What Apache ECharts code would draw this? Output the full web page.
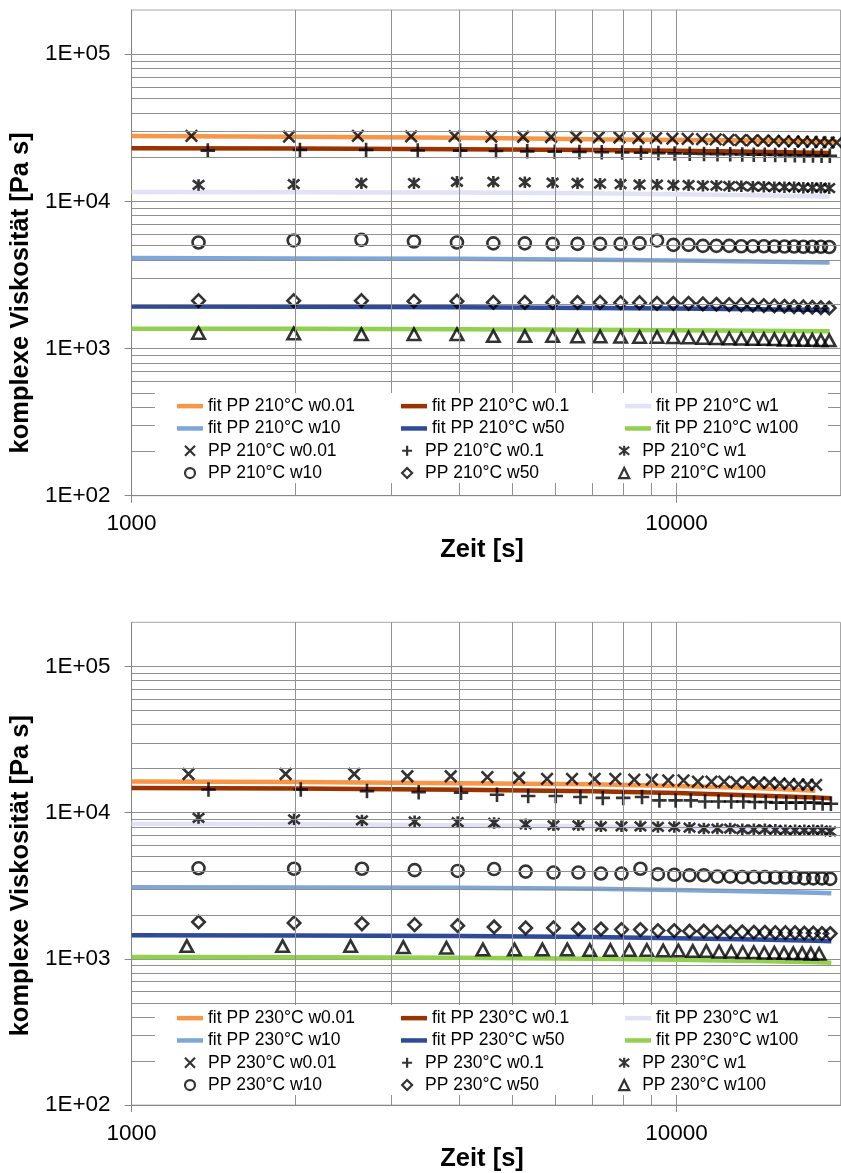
<!DOCTYPE html>
<html><head><meta charset="utf-8">
<script src="https://cdn.jsdelivr.net/npm/echarts@6/dist/echarts.min.js"></script>
<style>html,body{margin:0;padding:0;background:#fff}#c{width:841px;height:1173px}</style>
</head><body><div id="c"></div><script>
// ---------- 210 °C ----------
const t210_x = [1288, 1945, 2602, 3259, 3916, 4573, 5230, 5887, 6544, 7201, 7858, 8515, 9172, 9829, 10486, 11143, 11800, 12457, 13114, 13771, 14428, 15085, 15742, 16399, 17056, 17713, 18370, 19027, 19684];
const t210_p = [1380, 2037, 2694, 3351, 4008, 4665, 5322, 5979, 6636, 7293, 7950, 8607, 9264, 9921, 10578, 11235, 11892, 12549, 13206, 13863, 14520, 15177, 15834, 16491, 17148, 17805, 18462, 19119];
const t210_o = [1327, 1984, 2641, 3298, 3955, 4612, 5269, 5926, 6583, 7240, 7897, 8554, 9211, 9868, 10525, 11182, 11839, 12496, 13153, 13810, 14467, 15124, 15781, 16438, 17095, 17752, 18409, 19066];
const pp210_w001 = [27900, 27600, 27900, 27700, 27800, 27600, 27500, 27400, 27400, 27300, 27200, 27000, 26900, 26700, 26600, 26500, 26400, 26200, 26100, 26000, 25900, 25800, 25700, 25600, 25500, 25400, 25300, 25200, 25100];
const pp210_w01 = [22150, 22400, 22400, 22200, 22150, 22000, 21900, 21800, 21700, 21600, 21500, 21400, 21300, 21200, 21100, 21000, 20950, 20900, 20850, 20800, 20750, 20700, 20650, 20600, 20550, 20500, 20450, 20400];
const pp210_w1 = [12950, 13100, 13300, 13300, 13600, 13600, 13500, 13400, 13300, 13200, 13100, 13000, 13000, 12900, 12900, 12800, 12800, 12700, 12700, 12600, 12600, 12500, 12500, 12500, 12400, 12400, 12400, 12300];
const pp210_w10 = [5260, 5430, 5480, 5340, 5260, 5190, 5190, 5150, 5150, 5150, 5150, 5190, 5430, 5070, 5070, 4990, 4990, 4990, 4960, 4960, 4960, 4940, 4940, 4940, 4920, 4920, 4920, 4900];
const pp210_w50 = [2115, 2115, 2115, 2100, 2100, 2060, 2060, 2060, 2060, 2060, 2050, 2050, 2030, 2030, 2030, 2010, 2000, 1990, 1980, 1970, 1960, 1950, 1940, 1930, 1920, 1910, 1900, 1887];
const pp210_w100 = [1276, 1265, 1250, 1250, 1250, 1215, 1215, 1215, 1210, 1210, 1205, 1200, 1200, 1195, 1190, 1180, 1175, 1170, 1165, 1160, 1160, 1155, 1150, 1150, 1145, 1145, 1140, 1137];
const fitT210 = [1000, 2000, 4000, 7000, 10000, 14000, 19100, 19700];
const fit210_w001 = [27800, 27500, 27050, 26500, 26200, 25900, 25550, 25500];
const fit210_w01 = [23000, 22850, 22650, 22400, 22100, 21750, 21300];
const fit210_w1 = [11570, 11540, 11480, 11350, 11200, 11000, 10800];
const fit210_w10 = [4120, 4100, 4070, 4010, 3960, 3910, 3850];
const fit210_w50 = [1935, 1925, 1910, 1890, 1870, 1850, 1825];
const fit210_w100 = [1365, 1362, 1355, 1343, 1332, 1320, 1309];

// ---------- 230 °C ----------
const t230_x = [1272, 1917, 2562, 3207, 3852, 4497, 5142, 5787, 6432, 7077, 7722, 8367, 9012, 9657, 10302, 10947, 11592, 12237, 12882, 13527, 14172, 14817, 15462, 16107, 16752, 17397, 18042];
const t230_p = [1384, 2044, 2704, 3364, 4024, 4684, 5344, 6004, 6664, 7324, 7984, 8644, 9304, 9964, 10624, 11284, 11944, 12604, 13264, 13924, 14584, 15244, 15904, 16564, 17224, 17884, 18544, 19204];
const t230_o = [1327, 1987, 2647, 3307, 3967, 4627, 5287, 5947, 6607, 7267, 7927, 8587, 9247, 9907, 10567, 11227, 11887, 12547, 13207, 13867, 14527, 15187, 15847, 16507, 17167, 17827, 18487, 19147];
const t230_t = [1263, 1893, 2523, 3153, 3783, 4413, 5043, 5673, 6303, 6933, 7563, 8193, 8823, 9453, 10083, 10713, 11343, 11973, 12603, 13233, 13863, 14493, 15123, 15753, 16383, 17013, 17643, 18273];
const pp230_w001 = [18370, 18370, 18370, 17730, 17730, 17460, 17300, 17000, 17000, 17000, 17000, 16800, 16800, 16600, 16600, 16300, 16300, 16300, 16100, 16100, 16000, 16000, 15800, 15700, 15600, 15500, 15470];
const pp230_w01 = [14380, 14380, 14020, 13800, 13650, 13240, 12980, 12980, 12770, 12600, 12600, 12770, 12110, 12110, 12110, 11920, 11920, 11920, 11920, 11800, 11800, 11690, 11690, 11690, 11690, 11690, 11550, 11490];
const pp230_w1 = [9190, 8990, 8840, 8710, 8610, 8500, 8310, 8190, 8190, 8050, 8050, 8050, 7980, 7980, 7890, 7780, 7780, 7780, 7690, 7690, 7690, 7630, 7570, 7570, 7570, 7570, 7570, 7450];
const pp230_w10 = [4160, 4130, 4130, 4040, 3990, 4110, 3950, 3890, 3890, 3830, 3830, 4130, 3790, 3760, 3730, 3730, 3650, 3650, 3620, 3620, 3620, 3600, 3600, 3600, 3550, 3550, 3550, 3520];
const pp230_w50 = [1787, 1760, 1735, 1713, 1685, 1652, 1627, 1627, 1600, 1600, 1585, 1585, 1560, 1560, 1545, 1545, 1530, 1530, 1530, 1520, 1520, 1510, 1510, 1510, 1500, 1500, 1490, 1490];
const pp230_w100 = [1222, 1222, 1222, 1202, 1190, 1160, 1160, 1160, 1160, 1150, 1150, 1150, 1150, 1140, 1140, 1130, 1130, 1120, 1120, 1110, 1110, 1100, 1100, 1095, 1090, 1090, 1085, 1083];
const fitT230 = [1000, 2000, 4000, 7000, 10000, 14000, 17990, 19240];
const fit230_w001 = [16300, 16200, 15900, 15600, 15200, 14700, 14100];
const fit230_w01 = [14700, 14600, 14350, 14000, 13600, 13100, 12700, 12550];
const fit230_w1 = [8400, 8330, 8200, 8050, 7900, 7750, 7620, 7570];
const fit230_w10 = [3090, 3080, 3060, 3020, 2960, 2890, 2830, 2810];
const fit230_w50 = [1452, 1445, 1430, 1410, 1385, 1355, 1330, 1321];
const fit230_w100 = [1028, 1025, 1018, 1003, 985, 965, 948, 940];

// axis ticks
const majorXTicks = [1000, 10000];
const majorYTicks = [100, 1000, 10000, 100000];
const minorXTicks = [2000, 3000, 4000, 5000, 6000, 7000, 8000, 9000];
const minorYTicks = [200, 300, 400, 500, 600, 700, 800, 900, 2000, 3000, 4000, 5000, 6000, 7000, 8000, 9000, 20000, 30000, 40000, 50000, 60000, 70000, 80000, 90000];
const omegas = ['w0.01', 'w0.1', 'w1', 'w10', 'w50', 'w100'];

// ---------- styling ----------
const FONT = 'Liberation Sans, Arial, sans-serif';
const GRID_C = '#909090';
const AXIS_C = '#868686';
const fitColors = ['#F79646', '#9A3300', '#E2E2F6', '#7DA7D9', '#2F4A9A', '#92D050'];
const SYM = {
  x: 'path://M0,0L10,10M10,0L0,10',
  plus: 'path://M5,0L5,10M0,5L10,5',
  star: 'path://M0,1L10,9M10,1L0,9M5,0L5,10',
  diamond: 'path://M5,0L10,5L5,10L0,5Z',
  triangle: 'path://M5,0L10,10L0,10Z'
};
const markerDefs = [
  {symbol: SYM.x, size: 11.5},
  {symbol: SYM.plus, size: 14.5},
  {symbol: SYM.star, size: 11.5},
  {symbol: 'circle', size: 12},
  {symbol: SYM.diamond, size: [12.5, 12.5]},
  {symbol: SYM.triangle, size: [12.5, 11.5]}
];
const LINE_ICON = 'path://M0,0H26V4.5H0Z';

function zip(ts, vs) { return vs.map((v, i) => [ts[i], v]); }
function isPow10(v) { const e = Math.log10(v); return Math.abs(e - Math.round(e)) < 1e-6; }

const panels = [
  {temp: '210°C', fitT: fitT210,
   fits: [fit210_w001, fit210_w01, fit210_w1, fit210_w10, fit210_w50, fit210_w100],
   times: [t210_x, t210_p, t210_o, t210_o, t210_o, t210_o],
   pts: [pp210_w001, pp210_w01, pp210_w1, pp210_w10, pp210_w50, pp210_w100],
   grid: {left: 127.5, top: 10, width: 713, height: 485.7}, legendTop: 395, boxTop: 393, yNameGap: 89, yNameShift: 80},
  {temp: '230°C', fitT: fitT230,
   fits: [fit230_w001, fit230_w01, fit230_w1, fit230_w10, fit230_w50, fit230_w100],
   times: [t230_x, t230_p, t230_o, t230_o, t230_o, t230_t],
   pts: [pp230_w001, pp230_w01, pp230_w1, pp230_w10, pp230_w50, pp230_w100],
   grid: {left: 129.5, top: 622.3, width: 711, height: 486}, legendTop: 1007, boxTop: 1005, yNameGap: 91, yNameShift: 24}
];

const grids = [], xAxes = [], yAxes = [], series = [], legends = [], graphics = [];
panels.forEach((p, g) => {
  grids.push(Object.assign({show: true, borderColor: '#A6A6A6', borderWidth: 1, backgroundColor: '#fff'}, p.grid));
  xAxes.push({
    type: 'log', logBase: 10, min: 1000, max: 20000, gridIndex: g,
    axisLine: {show: true, lineStyle: {color: AXIS_C, width: 1}},
    axisTick: {show: true, length: 7, lineStyle: {color: AXIS_C}, customValues: majorXTicks},
    axisLabel: {customValues: majorXTicks, fontSize: 22.5, color: '#000', fontFamily: FONT, margin: 17,
      formatter: v => isPow10(v) ? String(Math.round(v)) : ''},
    splitLine: {show: true, lineStyle: {color: GRID_C, width: 1}},
    name: 'Zeit [s]', nameLocation: 'middle', nameGap: 40,
    nameTextStyle: {fontSize: 25.5, fontWeight: 'bold', color: '#000', fontFamily: FONT, padding: [0, 8, 0, 0]}
  });
  yAxes.push({
    type: 'log', logBase: 10, min: 100, max: 200000, gridIndex: g,
    axisLine: {show: true, lineStyle: {color: AXIS_C, width: 1}},
    axisTick: {show: true, length: 7, lineStyle: {color: AXIS_C}, customValues: majorYTicks},
    axisLabel: {customValues: majorYTicks, fontSize: 22.5, color: '#000', fontFamily: FONT, margin: 21,
      formatter: v => { if (!isPow10(v)) return ''; const e = Math.round(Math.log10(v)); return '1E+' + (e < 10 ? '0' : '') + e; }},
    splitLine: {show: true, lineStyle: {color: GRID_C, width: 1}},
    name: 'komplexe Viskosität [Pa s]', nameLocation: 'middle', nameGap: p.yNameGap,
    nameTextStyle: {fontSize: 25.5, fontWeight: 'bold', color: '#000', fontFamily: FONT, padding: [0, p.yNameShift, 0, 0]}
  });
  // minor gridlines through the axes' own scales
  series.push({
    type: 'line', xAxisIndex: g, yAxisIndex: g, data: [], z: 1, silent: true,
    markLine: {silent: true, symbol: ['none', 'none'], label: {show: false}, animation: false,
      emphasis: {disabled: true},
      lineStyle: {color: GRID_C, width: 1, type: 'solid'},
      data: minorYTicks.map(v => ({yAxis: v})).concat(minorXTicks.map(v => ({xAxis: v})))}
  });
  const legendData = [];
  p.fits.forEach((vals, i) => {
    const name = 'fit PP ' + p.temp + ' ' + omegas[i];
    series.push({
      type: 'line', name, xAxisIndex: g, yAxisIndex: g, data: zip(p.fitT, vals),
      symbol: 'none', smooth: false, z: 2, silent: true,
      lineStyle: {color: fitColors[i], width: 4.5}, itemStyle: {color: fitColors[i]},
      emphasis: {disabled: true}
    });
    legendData.push({name, icon: LINE_ICON, itemStyle: {borderWidth: 0}});
  });
  p.pts.forEach((vals, i) => {
    const name = 'PP ' + p.temp + ' ' + omegas[i];
    series.push({
      type: 'scatter', name, xAxisIndex: g, yAxisIndex: g, data: zip(p.times[i], vals),
      symbol: markerDefs[i].symbol, symbolSize: markerDefs[i].size, z: 4, silent: true,
      itemStyle: {color: 'rgba(0,0,0,0)', borderColor: '#000', borderWidth: 2.6},
      emphasis: {disabled: true}
    });
    legendData.push({name, itemStyle: {borderWidth: 2.2}});
  });
  legends.push({
    data: legendData, left: 177, top: p.legendTop, width: 680, orient: 'horizontal',
    itemWidth: 26, itemHeight: 10, itemGap: 0, padding: 0, selectedMode: false, z: 10,
    textStyle: {fontSize: 17.5, color: '#000', fontFamily: FONT, width: 193, lineHeight: 22.3}
  });
  graphics.push({type: 'rect', z: 8, silent: true,
    shape: {x: 155, y: p.boxTop, width: 673, height: 90}, style: {fill: '#fff'}});
});

const chart = echarts.init(document.getElementById('c'), null, {renderer: 'canvas'});
chart.setOption({
  animation: false,
  backgroundColor: '#fff',
  textStyle: {fontFamily: FONT},
  grid: grids, xAxis: xAxes, yAxis: yAxes, series, legend: legends,
  graphic: {elements: graphics}
});
</script></body></html>
